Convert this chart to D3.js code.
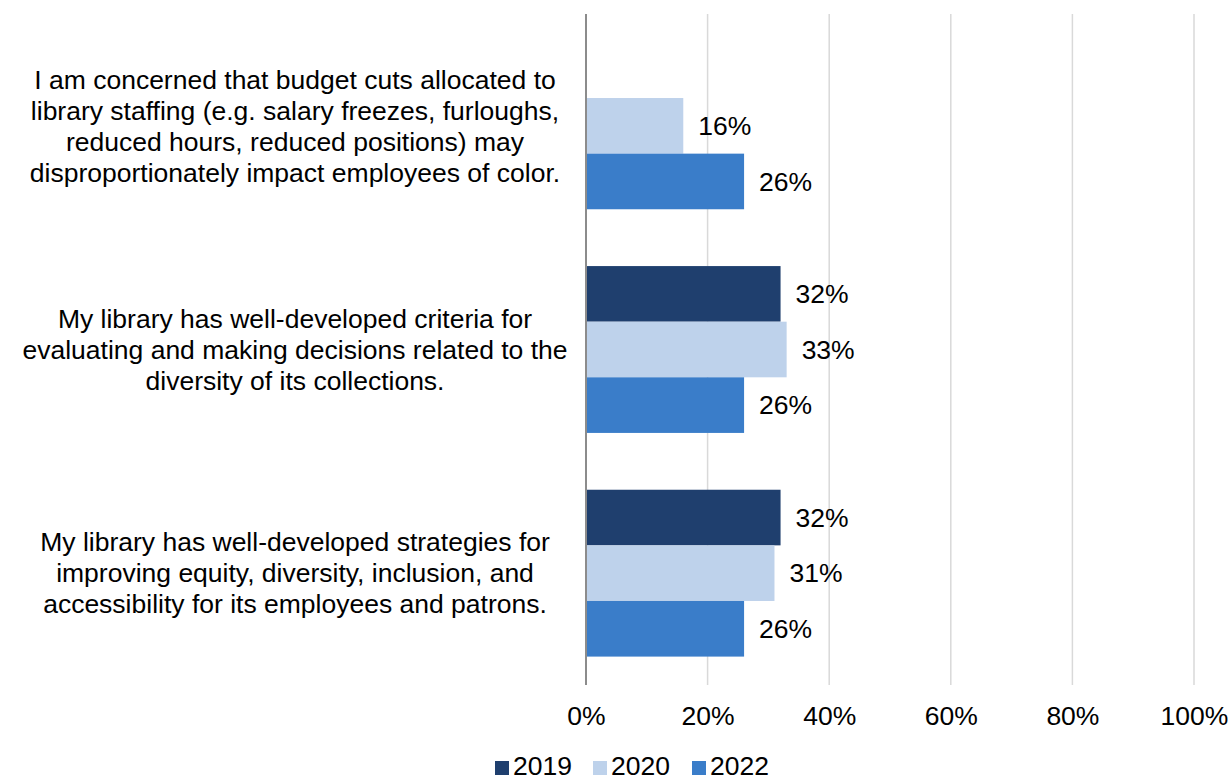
<!DOCTYPE html>
<html>
<head>
<meta charset="utf-8">
<script src="https://cdn.jsdelivr.net/npm/d3@7/dist/d3.min.js"></script>
<style>
  html, body { margin: 0; padding: 0; background: #fff; }
  svg { display: block; font-family: "Liberation Sans", Arial, sans-serif; }
</style>
</head>
<body>
<svg id="chart" width="1229" height="782"></svg>
<script>
// Survey statements (one per row group), each drawn as wrapped, centred text
const categories = [
  ["I am concerned that budget cuts allocated to",
   "library staffing (e.g. salary freezes, furloughs,",
   "reduced hours, reduced positions) may",
   "disproportionately impact employees of color."],
  ["My library has well-developed criteria for",
   "evaluating and making decisions related to the",
   "diversity of its collections."],
  ["My library has well-developed strategies for",
   "improving equity, diversity, inclusion, and",
   "accessibility for its employees and patrons."]
];
const years = ["2019", "2020", "2022"];
const values2019 = [null, 32, 32];
const values2020 = [16, 33, 31];
const values2022 = [26, 26, 26];
const tickValues = [0, 20, 40, 60, 80, 100];
const colors = ["#1f3f6e", "#bed2eb", "#3a7dc9"];

const seriesValues = [values2019, values2020, values2022];

const svg = d3.select("#chart");
const margin = { left: 586, right: 35, top: 14, bottom: 97 };
const W = 1229, H = 782;
const plotW = W - margin.left - margin.right;
const plotH = H - margin.top - margin.bottom;

const g = svg.append("g").attr("transform", `translate(${margin.left},${margin.top})`);

const x = d3.scaleLinear().domain([0, 100]).range([0, plotW]);
const y0 = d3.scaleBand().domain(d3.range(categories.length)).range([0, plotH])
  .paddingInner(0.254).paddingOuter(0.127);
const y1 = d3.scaleBand().domain(years).range([0, y0.bandwidth()]);

const fs = 26.5;

// vertical gridlines
g.selectAll("line.grid").data(tickValues.slice(1)).join("line")
  .attr("class", "grid")
  .attr("x1", d => x(d)).attr("x2", d => x(d))
  .attr("y1", 0).attr("y2", plotH)
  .attr("stroke", "#d9d9d9").attr("stroke-width", 1.5);

// bars with value labels
const groups = g.selectAll("g.cat").data(categories).join("g")
  .attr("class", "cat")
  .attr("transform", (d, i) => `translate(0,${y0(i)})`);

years.forEach((yr, s) => {
  groups.each(function (d, i) {
    const v = seriesValues[s][i];
    if (v == null) return;
    const sel = d3.select(this);
    sel.append("rect")
      .attr("x", x(0))
      .attr("y", y1(yr))
      .attr("width", x(v) - x(0))
      .attr("height", y1.bandwidth())
      .attr("fill", colors[s]);
    sel.append("text")
      .attr("x", x(v) + 15)
      .attr("y", y1(yr) + y1.bandwidth() / 2)
      .attr("dy", "0.35em")
      .attr("font-size", fs)
      .attr("fill", "#000")
      .text(v + "%");
  });
});

// category axis line
g.append("line")
  .attr("x1", 0).attr("x2", 0).attr("y1", 0).attr("y2", plotH)
  .attr("stroke", "#8c8c8c").attr("stroke-width", 2);

// category labels
const lineH = 31;
groups.each(function (lines) {
  const sel = d3.select(this);
  const cy = y0.bandwidth() / 2;
  const t = sel.append("text")
    .attr("text-anchor", "middle")
    .attr("font-size", fs)
    .attr("fill", "#000");
  lines.forEach((ln, k) => {
    t.append("tspan")
      .attr("x", -291)
      .attr("y", cy + (k - (lines.length - 1) / 2) * lineH)
      .attr("dy", "0.35em")
      .text(ln);
  });
});

// value axis
const xAxis = d3.axisBottom(x).tickValues(tickValues).tickSize(0).tickPadding(21)
  .tickFormat(d => d + "%");
const ax = g.append("g").attr("transform", `translate(0,${plotH})`).call(xAxis);
ax.select(".domain").remove();
ax.selectAll("text").attr("font-size", fs).attr("fill", "#000")
  .attr("font-family", "Liberation Sans, Arial, sans-serif");

// legend
const legend = svg.append("g").attr("transform", `translate(0, 775)`);
const legendX = [495, 593, 692];
years.forEach((yr, s) => {
  legend.append("rect")
    .attr("x", legendX[s]).attr("y", -14).attr("width", 14).attr("height", 14)
    .attr("fill", colors[s]);
  legend.append("text")
    .attr("x", legendX[s] + 18).attr("y", 0)
    .attr("font-size", fs).attr("fill", "#000")
    .text(yr);
});
</script>
</body>
</html>
